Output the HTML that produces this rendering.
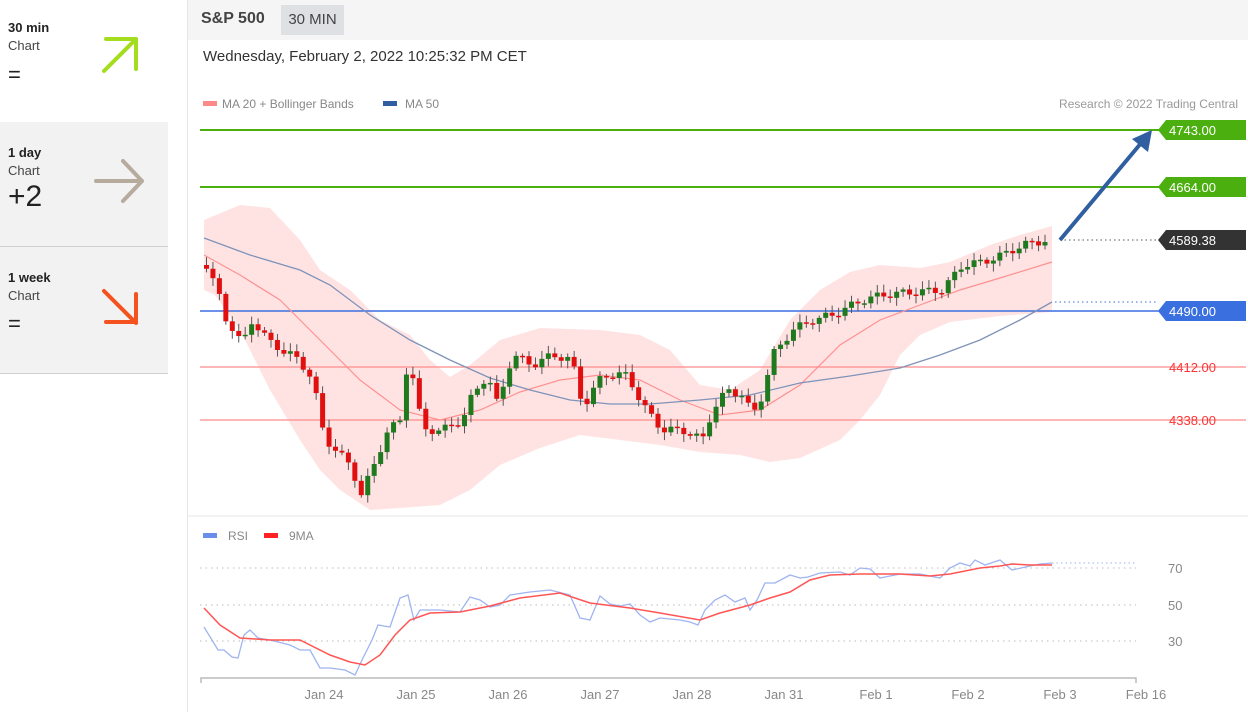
<!DOCTYPE html><html><head><meta charset="utf-8"><style>
body{margin:0;width:1248px;height:712px;overflow:hidden;background:#fff;font-family:"Liberation Sans",sans-serif;position:relative}
.lp{position:absolute;left:0;width:168px}
.lp b{position:absolute;left:8px;font-size:13px;color:#222}
.lp .c{position:absolute;left:8px;font-size:13px;color:#444}
.lp .v{position:absolute;left:8px;color:#222}
</style></head><body>
<div class="lp" style="top:0;height:121px;background:#fff"><b style="top:20px">30 min</b><span class="c" style="top:38px">Chart</span><span class="v" style="top:62px;font-size:22px">=</span></div>
<div class="lp" style="top:122px;height:124px;background:#f2f2f2;border-bottom:1px solid #d0d0d0"><b style="top:23px">1 day</b><span class="c" style="top:41px">Chart</span><span class="v" style="top:58px;font-size:30px">+2</span></div>
<div class="lp" style="top:247px;height:126px;background:#f2f2f2;border-bottom:1px solid #d0d0d0"><b style="top:23px">1 week</b><span class="c" style="top:41px">Chart</span><span class="v" style="top:64px;font-size:22px">=</span></div>
<svg style="position:absolute;left:0;top:0" width="170" height="380">
<g stroke-linecap="round" stroke-linejoin="round" fill="none" stroke-width="4">
<path d="M104 71 L136 39 M106 39 H136 V69" stroke="#a4dd1e"/>
<path d="M96 181 H142 M123 161 L142 181 L123 201" stroke="#b7ab9e"/>
<path d="M104 291 L136 323 M106 322 H136 V294" stroke="#f4521e"/>
</g></svg>
<div style="position:absolute;left:187px;top:0;width:1px;height:712px;background:#e6e6e6"></div>
<div style="position:absolute;left:188px;top:0;width:1060px;height:40px;background:#f5f5f5"></div>
<div style="position:absolute;left:201px;top:10px;font-size:16px;font-weight:bold;color:#444">S&amp;P 500</div>
<div style="position:absolute;left:281px;top:5px;width:63px;height:30px;background:#dfe0e4;font-size:15px;color:#444;line-height:30px;text-align:center">30 MIN</div>
<div style="position:absolute;left:203px;top:48px;font-size:15px;color:#333">Wednesday, February 2, 2022 10:25:32 PM CET</div>
<svg id="s" style="position:absolute;left:0;top:0" width="1248" height="712" font-family="Liberation Sans, sans-serif"></svg>
<script>
const S=document.getElementById('s');let h='';
function P(a){return a.map(p=>p.join(',')).join(' ')}
function interp(pts,x){for(let i=0;i<pts.length-1;i++){if(x>=pts[i][0]&&x<=pts[i+1][0]){const t=(x-pts[i][0])/(pts[i+1][0]-pts[i][0]);return pts[i][1]+t*(pts[i+1][1]-pts[i][1]);}}return pts[pts.length-1][1]}
h+='<rect x="203" y="101" width="14" height="5" fill="#f88"/><text x="222" y="108" font-size="12" fill="#888">MA 20 + Bollinger Bands</text><rect x="383" y="101" width="14" height="5" fill="#2f5fa0"/><text x="405" y="108" font-size="12" fill="#888">MA 50</text><text x="1238" y="108" font-size="12" fill="#999" text-anchor="end">Research © 2022 Trading Central</text>';
const up=[[204,220],[240,205],[270,208],[300,240],[320,270],[350,290],[380,320],[410,335],[430,360],[450,377],[470,365],[500,340],[540,328],[600,330],[640,335],[670,350],[700,385],[730,390],[760,370],[790,320],[820,290],[850,272],[880,265],[920,268],[950,262],[990,245],[1020,235],[1052,226]];
const lo=[[1052,312],[1000,316],[950,322],[920,335],[900,355],[880,395],[860,420],[840,440],[800,458],[770,462],[740,455],[700,452],[660,445],[620,440],[580,435],[540,448],[500,465],[470,490],[440,505],[400,508],[370,510],[340,490],[320,470],[300,440],[270,390],[240,330],[215,295],[204,290]];
h+='<polygon points="'+P(up.concat(lo))+'" fill="#ffe3e3"/>';
const lines=[[130,'#4caf10',2],[187,'#4caf10',2],[311,'#3a6fe0',1.5],[367,'#ff8a8a',1.3],[420,'#ff8a8a',1.3]];
lines.forEach(l=>h+='<line x1="200" x2="1246" y1="'+l[0]+'" y2="'+l[0]+'" stroke="'+l[1]+'" stroke-width="'+l[2]+'"/>');
const ma20=[[204,255],[240,275],[280,300],[320,340],[360,380],[400,410],[440,420],[480,410],[520,392],[560,380],[600,375],[640,380],[680,400],[720,415],[760,410],[800,385],[840,345],[880,320],[920,305],[960,290],[1000,278],[1052,262]];
const ma50=[[204,238],[250,255],[300,270],[330,285],[370,315],[410,340],[450,360],[490,378],[530,390],[570,400],[610,404],[650,404],[700,400],[750,395],[800,383],[850,376],[900,368],[940,355],[980,340],[1020,320],[1052,302]];
h+='<polyline points="'+P(ma20)+'" fill="none" stroke="#ff9090" stroke-width="1.2"/><polyline points="'+P(ma50)+'" fill="none" stroke="#7f93b8" stroke-width="1.3"/>';
const cl=[[204,265],[215,290],[222,318],[232,330],[240,345],[250,320],[258,330],[270,345],[290,355],[310,377],[322,440],[335,450],[350,470],[358,495],[372,465],[385,430],[400,420],[403,370],[410,375],[420,430],[440,430],[460,420],[470,395],[485,375],[495,405],[510,355],[530,365],[550,355],[570,360],[575,390],[582,405],[600,375],[625,375],[640,405],[660,430],[680,430],[700,440],[710,410],[725,390],[740,395],[750,415],[760,395],[770,355],[790,330],[810,320],[830,315],[860,300],[880,295],[900,293],[940,290],[960,265],[980,262],[1000,255],[1020,245],[1045,240]];
let prev=interp(cl,204);
for(let x=204;x<=1045;x+=6.45){const c=interp(cl,x)+Math.sin(x*1.7)*4;const o=prev;prev=c;const top=Math.min(o,c),bot=Math.max(o,c);const g=c<o;const col=g?'#1f7a1f':'#e01010';
const wt=top-2-Math.abs(Math.sin(x*0.9))*6,wb=bot+2+Math.abs(Math.cos(x*1.3))*6;
h+='<line x1="'+(x+2.5)+'" x2="'+(x+2.5)+'" y1="'+wt+'" y2="'+wb+'" stroke="#555" stroke-width="1"/><rect x="'+x+'" y="'+top+'" width="5" height="'+Math.max(bot-top,1.5)+'" fill="'+col+'"/>';}
h+='<line x1="1060" x2="1158" y1="240" y2="240" stroke="#555" stroke-dasharray="1.5,3"/><line x1="1055" x2="1158" y1="302" y2="302" stroke="#3a6fe0" stroke-dasharray="1.5,3"/>';
h+='<line x1="1060" y1="240" x2="1142" y2="142" stroke="#2f5fa0" stroke-width="4"/><polygon points="1152,130 1148,152 1132,139" fill="#2f5fa0"/>';
function lab(y,bg,t){h+='<polygon points="1158,'+y+' 1166,'+(y-10)+' 1246,'+(y-10)+' 1246,'+(y+10)+' 1166,'+(y+10)+'" fill="'+bg+'"/><text x="1169" y="'+(y+5)+'" font-size="13" fill="#fff">'+t+'</text>'}
lab(130,'#4caf10','4743.00');lab(187,'#4caf10','4664.00');lab(240,'#333','4589.38');lab(311,'#3a6fe0','4490.00');
h+='<text x="1169" y="372" font-size="13" fill="#f33">4412.00</text><text x="1169" y="425" font-size="13" fill="#f33">4338.00</text>';
h+='<line x1="188" x2="1248" y1="516" y2="516" stroke="#e6e6e6"/>';
h+='<rect x="203" y="533" width="14" height="5" fill="#6a8fe8"/><text x="228" y="540" font-size="12" fill="#888">RSI</text><rect x="264" y="533" width="14" height="5" fill="#f22"/><text x="289" y="540" font-size="12" fill="#888">9MA</text>';
[[568,70],[605,50],[641,30]].forEach(a=>{h+='<line x1="200" x2="1136" y1="'+a[0]+'" y2="'+a[0]+'" stroke="#bbb" stroke-dasharray="1.5,4"/><text x="1168" y="'+(a[0]+5)+'" font-size="13" fill="#888">'+a[1]+'</text>'});
const rsi=[[204,627],[212,640],[218,650],[224,650],[232,657],[238,658],[244,635],[250,630],[258,638],[270,640],[290,645],[300,650],[310,650],[320,668],[330,668],[345,670],[355,675],[362,660],[372,640],[378,625],[390,627],[400,598],[408,595],[414,620],[420,610],[440,610],[460,612],[470,597],[480,600],[490,607],[500,605],[510,595],[530,592],[550,590],[570,595],[580,618],[590,620],[600,596],[610,604],[620,606],[630,604],[640,615],[650,622],[660,618],[680,620],[690,622],[698,625],[705,610],[715,600],[725,595],[735,602],[745,598],[750,610],[757,600],[765,583],[775,583],[790,575],[800,578],[808,577],[820,573],[840,572],[850,575],[860,568],[870,569],[880,578],[900,574],[920,574],[940,578],[950,568],[960,563],[970,566],[975,560],[985,565],[1000,560],[1012,570],[1030,566],[1040,564],[1052,563]];
const r9=[[204,608],[220,625],[240,638],[270,640],[300,640],[330,655],[350,662],[365,665],[380,655],[395,635],[410,620],[430,613],[460,612],[490,606],[520,598],[560,593],[590,603],[630,608],[660,613],[700,620],[720,613],[750,605],[770,598],[790,592],[810,580],[830,575],[860,574],[900,574],[930,576],[950,574],[980,568],[1000,566],[1012,564],[1030,565],[1052,565]];
h+='<polyline points="'+P(rsi)+'" fill="none" stroke="#9fb4f0" stroke-width="1.3"/><polyline points="'+P(r9)+'" fill="none" stroke="#f55" stroke-width="1.5"/>';
h+='<line x1="1052" x2="1136" y1="563" y2="563" stroke="#9fb4f0" stroke-dasharray="1.5,3"/>';
h+='<path d="M201 683 V678 H1136 V683" fill="none" stroke="#bbb" stroke-width="1.5"/>';
[[324,'Jan 24'],[416,'Jan 25'],[508,'Jan 26'],[600,'Jan 27'],[692,'Jan 28'],[784,'Jan 31'],[876,'Feb 1'],[968,'Feb 2'],[1060,'Feb 3'],[1146,'Feb 16']].forEach(a=>h+='<text x="'+a[0]+'" y="699" font-size="13" fill="#888" text-anchor="middle">'+a[1]+'</text>');
S.innerHTML=h;
</script></body></html>
